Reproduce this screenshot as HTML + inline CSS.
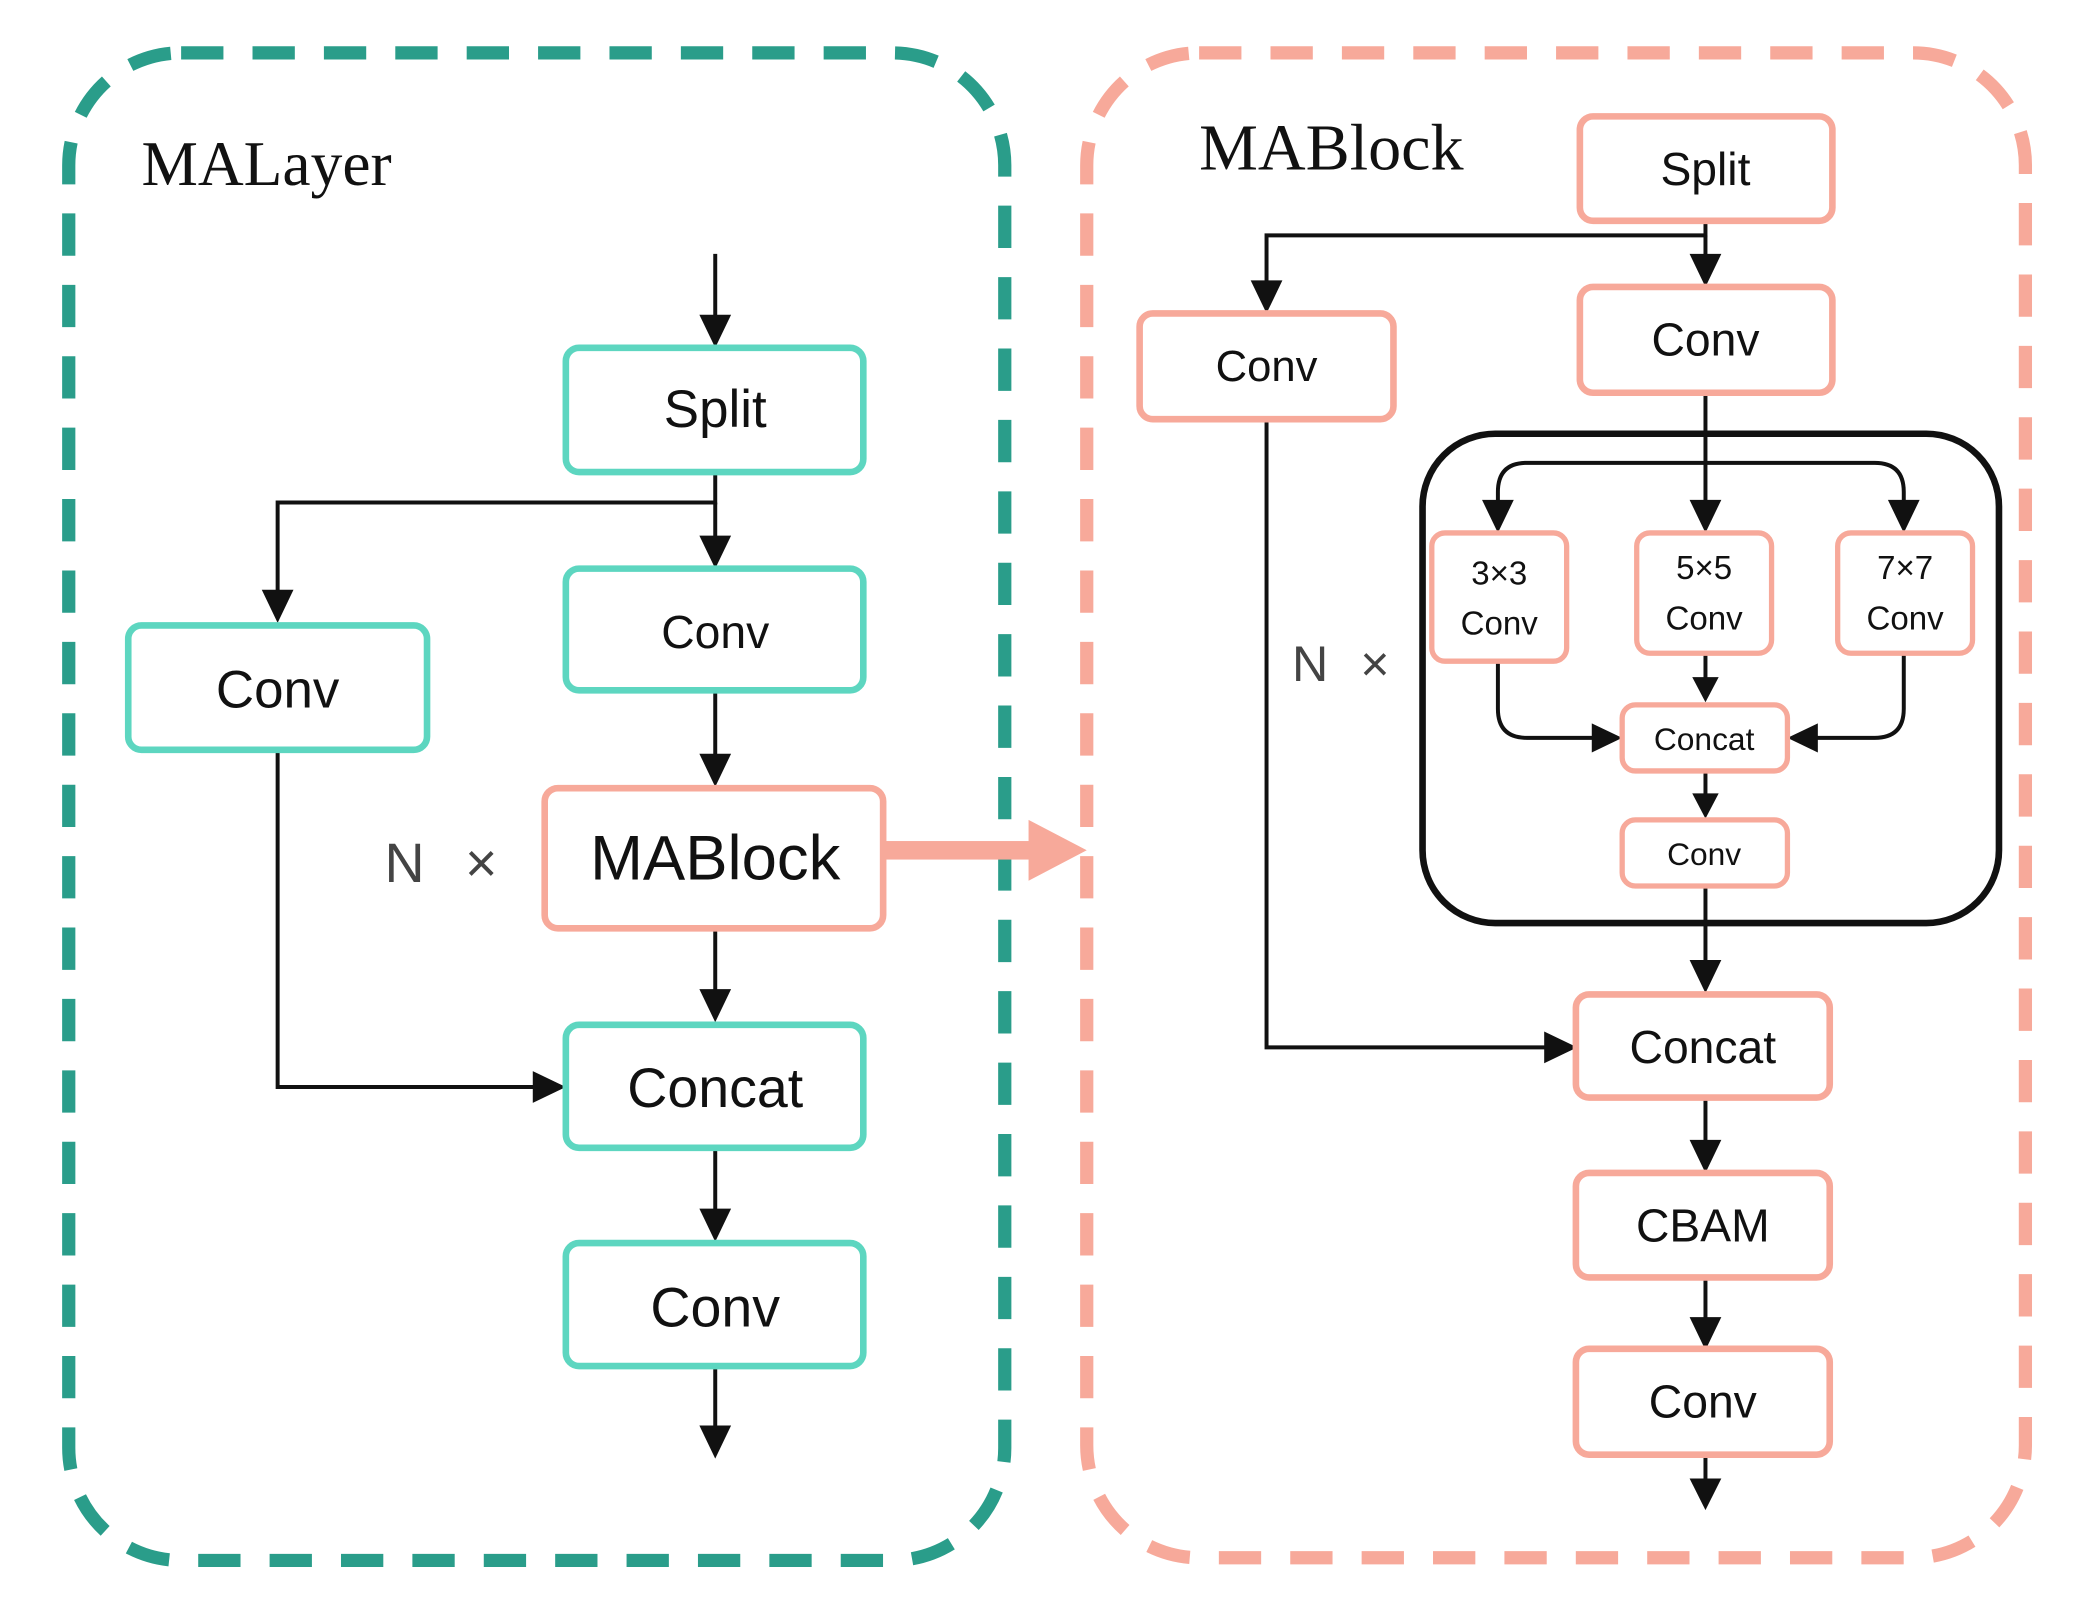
<!DOCTYPE html>
<html><head><meta charset="utf-8"><style>
html,body{margin:0;padding:0;background:#fff;}
svg{display:block;}
text{font-family:"Liberation Sans",sans-serif;fill:#111;text-anchor:middle;}
</style></head><body>
<svg width="2073" height="1612" viewBox="0 0 1568 1219" preserveAspectRatio="none" xmlns="http://www.w3.org/2000/svg">
<rect x="52" y="40" width="708" height="1140" rx="85" fill="none" stroke="#2a9d8a" stroke-width="10" stroke-dasharray="32 22"/>
<rect x="822" y="40" width="710" height="1138" rx="85" fill="none" stroke="#f7a99a" stroke-width="10" stroke-dasharray="32 22"/>
<text x="107" y="140" style="font-family:'Liberation Serif',serif;font-size:48px;text-anchor:start">MALayer</text>
<text x="907" y="128" style="font-family:'Liberation Serif',serif;font-size:50px;text-anchor:start">MABlock</text>

<g fill="none" stroke="#111" stroke-width="3">
<line x1="541" y1="192" x2="541" y2="240"/>
<polyline points="541,357 541,380 210,380 210,448"/>
<line x1="541" y1="380" x2="541" y2="408"/>
<line x1="541" y1="522" x2="541" y2="572"/>
<line x1="541" y1="702" x2="541" y2="750"/>
<polyline points="210,567 210,822 405,822"/>
<line x1="541" y1="868" x2="541" y2="916"/>
<line x1="541" y1="1033" x2="541" y2="1080"/>
<polyline points="1290,167 1290,178 958,178 958,214"/>
<line x1="1290" y1="178" x2="1290" y2="194"/>
<polyline points="958,317 958,792 1170,792"/>
<line x1="1290" y1="297" x2="1290" y2="380"/>
<path d="M1133,380 V372 Q1133,350 1155,350 H1418 Q1440,350 1440,372 V380"/>
<path d="M1133,500 V536 Q1133,558 1155,558 H1206"/>
<path d="M1440,494 V536 Q1440,558 1418,558 H1374"/>
<line x1="1290" y1="494" x2="1290" y2="514"/>
<line x1="1290" y1="583" x2="1290" y2="602"/>
<line x1="1290" y1="670" x2="1290" y2="728"/>
<line x1="1290" y1="830" x2="1290" y2="864"/>
<line x1="1290" y1="966" x2="1290" y2="998"/>
<line x1="1290" y1="1100" x2="1290" y2="1120"/>
</g>
<g fill="#111">
<polygon points="529,238 553,238 541,263"/>
<polygon points="198,446 222,446 210,471"/>
<polygon points="529,405 553,405 541,430"/>
<polygon points="529,570 553,570 541,595"/>
<polygon points="529,748 553,748 541,773"/>
<polygon points="403,810 403,834 428,822"/>
<polygon points="529,914 553,914 541,939"/>
<polygon points="529,1078 553,1078 541,1103"/>
<polygon points="946,212 970,212 958,237"/>
<polygon points="1278,192 1302,192 1290,217"/>
<polygon points="1168,780 1168,804 1193,792"/>
<polygon points="1121,378 1145,378 1133,403"/>
<polygon points="1278,378 1302,378 1290,403"/>
<polygon points="1428,378 1452,378 1440,403"/>
<polygon points="1204,547 1204,569 1227,558"/>
<polygon points="1375,547 1375,569 1352,558"/>
<polygon points="1280,512 1300,512 1290,531"/>
<polygon points="1280,600 1300,600 1290,619"/>
<polygon points="1278,726 1302,726 1290,751"/>
<polygon points="1278,862 1302,862 1290,887"/>
<polygon points="1278,996 1302,996 1290,1021"/>
<polygon points="1278,1118 1302,1118 1290,1142"/>
</g>
<rect x="668" y="636" width="114" height="14" fill="#f7a99a"/>
<polygon points="778,620 778,666 822,643" fill="#f7a99a"/>
<rect x="1076" y="328" width="436" height="370" rx="55" fill="none" stroke="#111" stroke-width="5"/>

<g stroke="#5dd6c0" stroke-width="5" fill="#fff">
<rect x="428" y="263" width="225" height="94" rx="10"/>
<rect x="428" y="430" width="225" height="92" rx="10"/>
<rect x="97" y="473" width="226" height="94" rx="10"/>
<rect x="428" y="775" width="225" height="93" rx="10"/>
<rect x="428" y="940" width="225" height="93" rx="10"/>
</g>
<g stroke="#f7a99a" stroke-width="5" fill="#fff">
<rect x="412" y="596" width="256" height="106" rx="10"/>
<rect x="1195" y="88" width="191" height="79" rx="10"/>
<rect x="1195" y="217" width="191" height="80" rx="10"/>
<rect x="862" y="237" width="192" height="80" rx="10"/>
<rect x="1083" y="403" width="102" height="97" rx="10" stroke-width="4"/>
<rect x="1238" y="403" width="102" height="91" rx="10" stroke-width="4"/>
<rect x="1390" y="403" width="102" height="91" rx="10" stroke-width="4"/>
<rect x="1227" y="533" width="125" height="50" rx="10" stroke-width="4"/>
<rect x="1227" y="620" width="125" height="50" rx="10" stroke-width="4"/>
<rect x="1192" y="752" width="192" height="78" rx="10"/>
<rect x="1192" y="887" width="192" height="79" rx="10"/>
<rect x="1192" y="1020" width="192" height="80" rx="10"/>
</g>

<text x="541" y="323" font-size="40">Split</text>
<text x="541" y="490" font-size="35">Conv</text>
<text x="210" y="535" font-size="40">Conv</text>
<text x="541" y="665" font-size="48">MABlock</text>
<text x="541" y="837" font-size="42">Concat</text>
<text x="541" y="1003" font-size="42">Conv</text>
<text x="306" y="667" font-size="42" style="fill:#444">N</text>
<text x="364" y="667" font-size="42" style="fill:#444">×</text>

<text x="1290" y="140" font-size="35">Split</text>
<text x="1290" y="269" font-size="35">Conv</text>
<text x="958" y="288" font-size="33">Conv</text>
<text x="1134" y="442" font-size="25">3×3</text>
<text x="1134" y="480" font-size="25">Conv</text>
<text x="1289" y="438" font-size="25">5×5</text>
<text x="1289" y="476" font-size="25">Conv</text>
<text x="1441" y="438" font-size="25">7×7</text>
<text x="1441" y="476" font-size="25">Conv</text>
<text x="1289" y="567" font-size="24">Concat</text>
<text x="1289" y="654" font-size="24">Conv</text>
<text x="1288" y="804" font-size="35">Concat</text>
<text x="1288" y="939" font-size="35">CBAM</text>
<text x="1288" y="1072" font-size="35">Conv</text>
<text x="991" y="515" font-size="38" style="fill:#444">N</text>
<text x="1040" y="515" font-size="38" style="fill:#444">×</text>
</svg>
</body></html>
